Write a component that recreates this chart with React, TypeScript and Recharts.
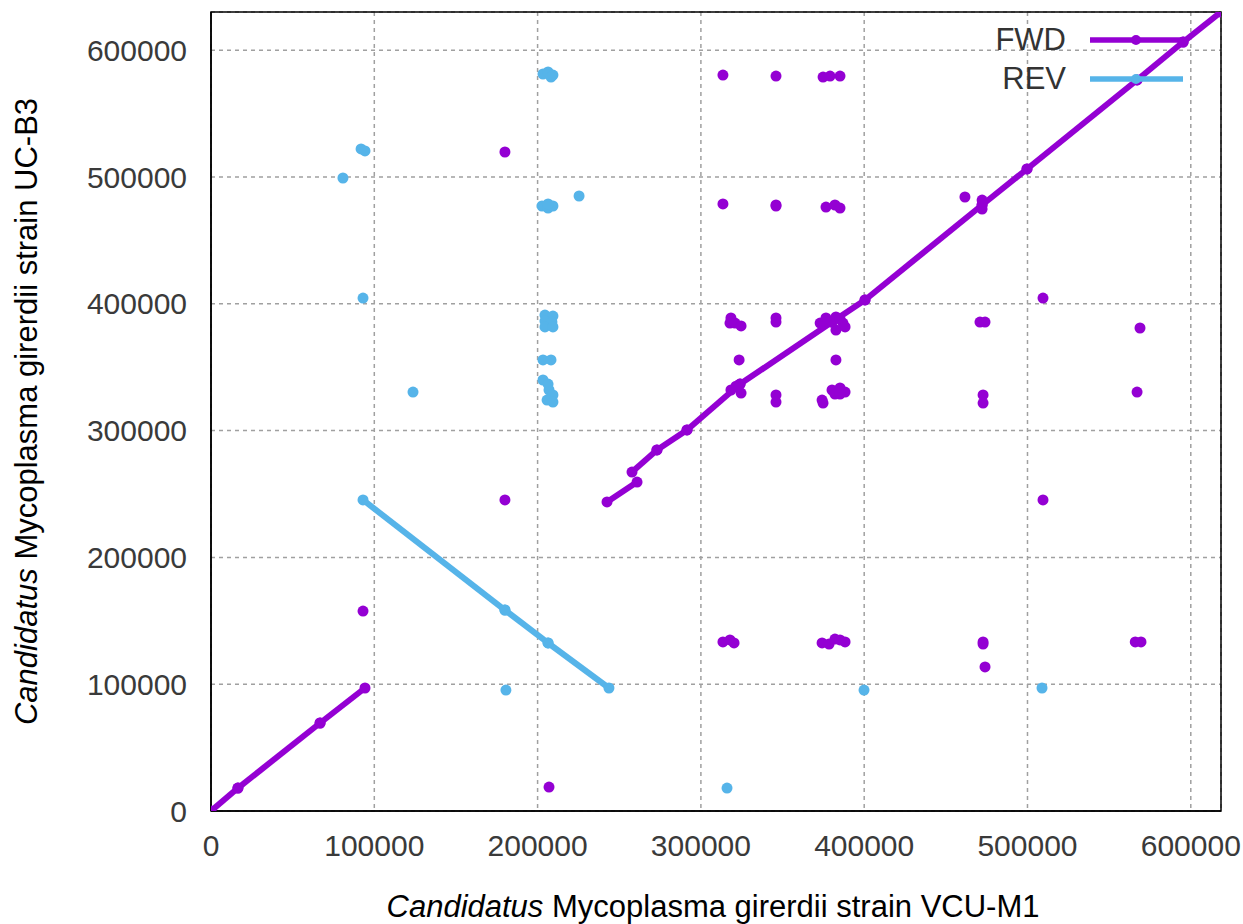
import {
  ScatterChart,
  Scatter,
  XAxis,
  YAxis,
  CartesianGrid,
  ReferenceArea,
  Legend,
} from "recharts";

const FONT = '"Liberation Sans", Arial, sans-serif';
const FWD_COLOR = "#9400d3";
const REV_COLOR = "#56b4e9";
const DOT_R = 5.5;

const X_MAX = 618500;
const Y_MAX = 630100;
const xTicks = [0, 100000, 200000, 300000, 400000, 500000, 600000];
const yTicks = [0, 100000, 200000, 300000, 400000, 500000, 600000];

const legendItems = [
  { name: "FWD", color: FWD_COLOR },
  { name: "REV", color: REV_COLOR },
];

// alignments: [x1, y1, x2, y2] in bp
type Seg = [number, number, number, number];

const fwdSegments: Seg[] = [
  [0, 0, 16500, 18100],
  [16500, 18100, 66800, 69400],
  [66800, 69400, 94300, 97000],
  [242500, 243700, 260900, 259400],
  [257800, 267300, 273100, 284700],
  [273100, 284700, 291500, 300500],
  [291500, 300500, 324000, 336700],
  [324000, 336700, 380300, 385600],
  [380300, 385600, 400500, 403000],
  [400500, 403000, 472200, 477900],
  [472200, 477900, 499700, 506300],
  [499700, 506300, 567100, 576500],
  [567100, 576500, 595300, 606400],
  [595300, 606400, 618500, 630100],
];

const revSegments: Seg[] = [
  [93100, 245300, 180000, 158500],
  [180000, 158500, 206400, 132500],
  [206400, 132500, 243700, 97000],
];

// short alignments that show up as dots: [x, y]
const fwdDots: [number, number][] = [
  [180000, 519700], [180000, 245300], [93100, 157700], [207000, 18900],
  [313500, 580400], [346000, 579600], [374800, 578800], [379100, 579600], [385200, 579600],
  [313500, 478700], [346000, 477900], [346000, 477100],
  [376600, 476300], [382100, 477900], [385200, 475500],
  [318400, 388800], [317800, 384800], [320900, 384800], [324600, 382500],
  [346000, 388800], [346000, 385600],
  [373000, 384800], [376600, 388800], [382700, 389600], [385200, 388000],
  [387000, 384800], [388300, 381700], [382700, 379300],
  [323400, 355700], [382700, 355700],
  [318400, 332000], [321500, 335000], [324600, 329600],
  [346000, 328100], [346000, 322500],
  [380300, 332000], [385200, 333600], [388300, 330400], [382100, 328800],
  [374200, 324100], [374800, 321700], [385200, 328800],
  [470900, 385600], [474000, 385600],
  [472800, 328100], [472800, 321700],
  [509500, 404500], [568900, 380900], [567100, 330400], [509500, 245300],
  [313500, 133300], [317800, 134900], [320300, 132500],
  [472800, 133300], [472800, 131700], [474000, 113600],
  [566000, 133300], [569500, 133300],
  [374200, 132500], [378500, 131700], [382100, 135600], [385200, 134900], [388300, 133300],
  [461700, 484200], [472200, 481800], [472200, 474700],
];

const revDots: [number, number][] = [
  [91900, 522100], [94300, 520500], [80800, 499200], [93100, 404500], [123700, 330400],
  [203300, 581200], [206400, 582800], [209400, 580400], [208200, 578800],
  [202700, 477100], [206400, 475500], [209400, 477100], [206400, 478700],
  [225400, 485000],
  [204500, 391100], [209400, 390300], [204500, 386400], [208800, 385600],
  [204500, 381700], [209400, 381700],
  [203300, 355700], [208200, 355700],
  [203300, 339900], [206400, 336700], [207000, 332000], [209400, 328100],
  [205800, 324100], [209400, 322500],
  [180600, 95400], [316000, 18100], [399900, 95400], [508900, 97000],
];

const toPoints = (s: Seg) => [
  { x: s[0], y: s[1] },
  { x: s[2], y: s[3] },
];

const dotShape = (color: string) => (p: any) =>
  <circle cx={p.cx} cy={p.cy} r={DOT_R} fill={color} />;

function DotLegend() {
  return (
    <div style={{ fontFamily: FONT, fontSize: 31, color: "#333" }}>
      {legendItems.map((item) => (
        <div
          key={item.name}
          style={{ display: "flex", alignItems: "center", height: 39 }}
        >
          <span style={{ width: 110, textAlign: "right" }}>{item.name}</span>
          <svg width={117} height={20}>
            <line x1={24} x2={117} y1={10} y2={10} stroke={item.color} strokeWidth={5.5} />
            <circle cx={70} cy={10} r={5} fill={item.color} />
          </svg>
        </div>
      ))}
    </div>
  );
}

function XLabel(props: any) {
  const { x, y, width } = props.viewBox;
  return (
    <text x={x + width / 2 - 3} y={y + 106} textAnchor="middle" fontFamily={FONT} fontSize={31} fill="#000">
      <tspan fontStyle="italic">Candidatus</tspan> Mycoplasma girerdii strain VCU-M1
    </text>
  );
}

function YLabel(props: any) {
  const { y, height } = props.viewBox;
  const cx = 37;
  const cy = y + height / 2;
  return (
    <text
      x={cx}
      y={cy}
      transform={`rotate(-90, ${cx}, ${cy})`}
      textAnchor="middle"
      fontFamily={FONT}
      fontSize={31}
      fill="#000"
    >
      <tspan fontStyle="italic">Candidatus</tspan> Mycoplasma girerdii strain UC-B3
    </text>
  );
}

export default function App() {
  const tickStyle = { fontSize: 30, fill: "#3a3a3a", fontFamily: FONT };
  return (
    <div style={{ position: "absolute", left: 0, top: 0, background: "#fff" }}>
      <ScatterChart
        width={1243}
        height={924}
        margin={{ top: 12, right: 22, bottom: 0, left: 0 }}
      >
        <CartesianGrid stroke="#a0a0a0" strokeDasharray="4 4" strokeWidth={1.5} />
        <XAxis
          type="number"
          dataKey="x"
          domain={[0, X_MAX]}
          ticks={xTicks}
          allowDataOverflow
          height={113}
          tick={tickStyle}
          tickLine={false}
          tickSize={6}
          tickMargin={18}
          axisLine={{ stroke: "#000", strokeWidth: 1.5 }}
          label={{ content: (p: any) => <XLabel {...p} /> }}
        />
        <YAxis
          type="number"
          dataKey="y"
          domain={[0, Y_MAX]}
          ticks={yTicks}
          allowDataOverflow
          width={211}
          tick={tickStyle}
          tickLine={false}
          tickSize={6}
          tickMargin={18}
          axisLine={{ stroke: "#000", strokeWidth: 1.5 }}
          label={{ content: (p: any) => <YLabel {...p} /> }}
        />
        <ReferenceArea
          x1={0}
          x2={X_MAX}
          y1={0}
          y2={Y_MAX}
          fill="none"
          fillOpacity={0}
          stroke="#000"
          strokeWidth={1.5}
        />
        <Legend
          layout="horizontal"
          verticalAlign="middle"
          align="center"
          content={() => <DotLegend />}
          wrapperStyle={{ top: 20, left: 956, width: 240 }}
        />
        {revSegments.map((s, i) => (
          <Scatter
            key={"rs" + i}
            name="REV"
            data={toPoints(s)}
            fill={REV_COLOR}
            line={{ stroke: REV_COLOR, strokeWidth: 6 }}
            shape={dotShape(REV_COLOR)}
            legendType="none"
            isAnimationActive={false}
          />
        ))}
        <Scatter
          name="REV"
          data={revDots.map(([x, y]) => ({ x, y }))}
          fill={REV_COLOR}
          shape={dotShape(REV_COLOR)}
          legendType="none"
          isAnimationActive={false}
        />
        {fwdSegments.map((s, i) => (
          <Scatter
            key={"fs" + i}
            name="FWD"
            data={toPoints(s)}
            fill={FWD_COLOR}
            line={{ stroke: FWD_COLOR, strokeWidth: 6 }}
            shape={dotShape(FWD_COLOR)}
            legendType="none"
            isAnimationActive={false}
          />
        ))}
        <Scatter
          name="FWD"
          data={fwdDots.map(([x, y]) => ({ x, y }))}
          fill={FWD_COLOR}
          shape={dotShape(FWD_COLOR)}
          legendType="none"
          isAnimationActive={false}
        />
      </ScatterChart>
    </div>
  );
}
